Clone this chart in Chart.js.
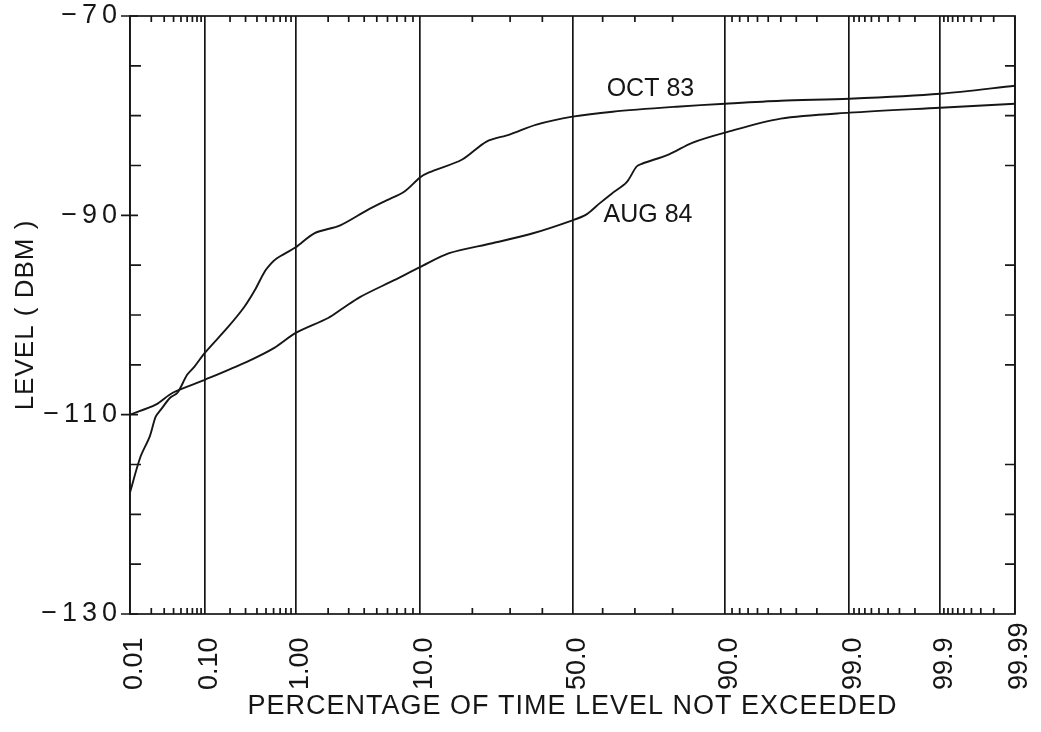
<!DOCTYPE html>
<html>
<head>
<meta charset="utf-8">
<script src="https://cdn.jsdelivr.net/npm/chart.js@4.4.1/dist/chart.umd.min.js"></script>
<style>
  html, body { margin: 0; padding: 0; background: #fff; }
</style>
</head>
<body>
<canvas id="chart-level" width="1041" height="732"></canvas>
<script>
// percentage of time level not exceeded / level in dBm
const pctOct83 = [0.01, 0.014, 0.019, 0.023, 0.027, 0.036, 0.045, 0.06, 0.074, 0.10, 0.19, 0.29, 0.38, 0.48, 0.57, 0.65, 1.0, 1.5, 2.55, 4.2, 5.9, 7.9, 10, 11.4, 17.7, 23.5, 29.8, 38.1, 50, 63.2, 80.9, 90, 96, 99, 99.9, 99.99];
const dbmOct83 = [-117.8, -114.3, -112.2, -110.2, -109.5, -108.3, -107.8, -106.0, -105.2, -103.8, -101.2, -99.2, -97.5, -95.7, -94.8, -94.3, -93.2, -91.8, -91.0, -89.5, -88.5, -87.6, -86.2, -85.7, -84.4, -82.6, -81.9, -80.9, -80.1, -79.6, -79.1, -78.8, -78.5, -78.3, -77.8, -77.0];

const pctAug84 = [0.01, 0.023, 0.039, 0.10, 0.31, 0.61, 1.0, 2.0, 2.7, 3.7, 6.7, 10, 15, 25, 37, 50, 54.7, 59.0, 63, 67.5, 70.5, 72.2, 79, 84.4, 90, 96, 99, 99.9, 99.99];
const dbmAug84 = [-110.0, -109.0, -107.8, -106.5, -104.7, -103.3, -101.8, -100.3, -99.3, -98.2, -96.5, -95.2, -93.8, -92.8, -91.8, -90.5, -89.9, -88.8, -87.8, -86.7, -85.1, -84.8, -83.9, -82.7, -81.7, -80.3, -79.7, -79.2, -78.8];

const xTickPct = [0.01, 0.1, 1, 10, 50, 90, 99, 99.9, 99.99];
const xTickLabels = ['0.01', '0.10', '1.00', '10.0', '50.0', '90.0', '99.0', '99.9', '99.99'];
const xMinorPct = [0.02, 0.03, 0.04, 0.05, 0.06, 0.07, 0.08, 0.09,
  0.2, 0.3, 0.4, 0.5, 0.6, 0.7, 0.8, 0.9,
  2, 3, 4, 5, 6, 7, 8, 9,
  20, 30, 40, 60, 70, 80,
  91, 92, 93, 94, 95, 96, 97, 98,
  99.1, 99.2, 99.3, 99.4, 99.5, 99.6, 99.7, 99.8,
  99.91, 99.92, 99.93, 99.94, 99.95, 99.96, 99.97, 99.98];
const yTickVals = [-130, -110, -90, -70];
const yMinorVals = [-125, -120, -115, -105, -100, -95, -85, -80, -75];

const ink = '#161616';
const font = '"Liberation Sans", Arial, sans-serif';

// inverse normal cdf (Acklam) for the probability axis
function probit(p) {
  const a = [-3.969683028665376e+01, 2.209460984245205e+02, -2.759285104469687e+02, 1.383577518672690e+02, -3.066479806614716e+01, 2.506628277459239e+00];
  const b = [-5.447609879822406e+01, 1.615858368580409e+02, -1.556989798598866e+02, 6.680131188771972e+01, -1.328068155288572e+01];
  const c = [-7.784894002430293e-03, -3.223964580411365e-01, -2.400758277161838e+00, -2.549732539343734e+00, 4.374664141464968e+00, 2.938163982698783e+00];
  const d = [7.784695709041462e-03, 3.224671290700398e-01, 2.445134137142996e+00, 3.754408661907416e+00];
  const pl = 0.02425;
  if (p < pl) {
    const q = Math.sqrt(-2 * Math.log(p));
    return (((((c[0]*q+c[1])*q+c[2])*q+c[3])*q+c[4])*q+c[5]) / ((((d[0]*q+d[1])*q+d[2])*q+d[3])*q+1);
  }
  if (p > 1 - pl) {
    const q = Math.sqrt(-2 * Math.log(1 - p));
    return -(((((c[0]*q+c[1])*q+c[2])*q+c[3])*q+c[4])*q+c[5]) / ((((d[0]*q+d[1])*q+d[2])*q+d[3])*q+1);
  }
  const q = p - 0.5, r = q * q;
  return (((((a[0]*r+a[1])*r+a[2])*r+a[3])*r+a[4])*r+a[5])*q / (((((b[0]*r+b[1])*r+b[2])*r+b[3])*r+b[4])*r+1);
}
const zOf = (pct) => probit(pct / 100);

const plotterFrame = {
  id: 'plotterFrame',
  beforeDraw(chart) {
    chart.ctx.letterSpacing = '1px';
  },
  afterDraw(chart) {
    const { ctx, chartArea: a, scales: { x, y } } = chart;
    ctx.save();
    ctx.letterSpacing = '0px';
    ctx.strokeStyle = ink;
    ctx.lineWidth = 1.7;
    ctx.strokeRect(a.left, a.top, a.right - a.left, a.bottom - a.top);

    ctx.beginPath();
    yMinorVals.forEach(v => {
      const py = y.getPixelForValue(v);
      ctx.moveTo(a.left, py); ctx.lineTo(a.left + 11, py);
      ctx.moveTo(a.right, py); ctx.lineTo(a.right - 10, py);
    });
    yTickVals.forEach(v => {
      const py = y.getPixelForValue(v);
      ctx.moveTo(a.left - 9, py); ctx.lineTo(a.left + 8, py);
    });
    xMinorPct.forEach(p => {
      const px = x.getPixelForValue(zOf(p));
      ctx.moveTo(px, a.bottom); ctx.lineTo(px, a.bottom - 6);
      ctx.moveTo(px, a.top); ctx.lineTo(px, a.top + 6);
    });
    ctx.stroke();

    ctx.fillStyle = ink;
    ctx.font = '27px ' + font;
    ctx.letterSpacing = '5px';
    ctx.textAlign = 'right';
    ctx.textBaseline = 'middle';
    yTickVals.forEach(v => {
      ctx.fillText('\u2212' + Math.abs(v), a.left - 8, y.getPixelForValue(v));
    });

    ctx.letterSpacing = '0px';
    ctx.textAlign = 'left';
    ctx.textBaseline = 'alphabetic';
    xTickPct.forEach((p, i) => {
      const px = x.getPixelForValue(zOf(p));
      ctx.save();
      ctx.translate(px + 12, 690);
      ctx.rotate(-Math.PI / 2);
      ctx.fillText(xTickLabels[i], 0, 0);
      ctx.restore();
    });

    ctx.font = '25px ' + font;
    ctx.textBaseline = 'middle';
    ctx.fillText('OCT 83', x.getPixelForValue(zOf(61.3)), y.getPixelForValue(-77.3));
    ctx.fillText('AUG 84', x.getPixelForValue(zOf(60.3)), y.getPixelForValue(-90.0));
    ctx.restore();
  }
};

new Chart(
  document.getElementById('chart-level'),
  {
    type: 'line',
    data: {
      datasets: [
        {
          label: 'OCT 83',
          data: pctOct83.map((p, i) => ({ x: zOf(p), y: dbmOct83[i] })),
          borderColor: ink,
          borderWidth: 1.9,
          pointRadius: 0,
          tension: 0.3,
          fill: false
        },
        {
          label: 'AUG 84',
          data: pctAug84.map((p, i) => ({ x: zOf(p), y: dbmAug84[i] })),
          borderColor: ink,
          borderWidth: 1.9,
          pointRadius: 0,
          tension: 0.3,
          fill: false
        }
      ]
    },
    options: {
      responsive: false,
      animation: false,
      layout: { padding: { top: 16, right: 26, left: 0, bottom: 0 } },
      plugins: { legend: { display: false }, tooltip: { enabled: false } },
      scales: {
        x: {
          type: 'linear',
          min: zOf(0.01),
          max: zOf(99.99),
          afterBuildTicks: (s) => { s.ticks = xTickPct.map(p => ({ value: zOf(p) })); },
          afterFit: (s) => { s.height = 118; },
          ticks: { display: false },
          grid: { color: ink, lineWidth: 1.7, drawTicks: false },
          border: { display: false },
          title: {
            display: true,
            text: 'PERCENTAGE OF TIME LEVEL NOT EXCEEDED',
            color: ink,
            font: { family: font, size: 27 },
            padding: { top: 0, bottom: 9 }
          }
        },
        y: {
          type: 'linear',
          min: -130,
          max: -70,
          afterBuildTicks: (s) => { s.ticks = yTickVals.map(v => ({ value: v })); },
          afterFit: (s) => { s.width = 130; },
          ticks: { display: false },
          grid: { display: false },
          border: { display: false },
          title: {
            display: true,
            text: 'LEVEL ( DBM )',
            color: ink,
            font: { family: font, size: 26 },
            padding: { top: 10, bottom: 0 }
          }
        }
      }
    },
    plugins: [plotterFrame]
  }
);
</script>
</body>
</html>
